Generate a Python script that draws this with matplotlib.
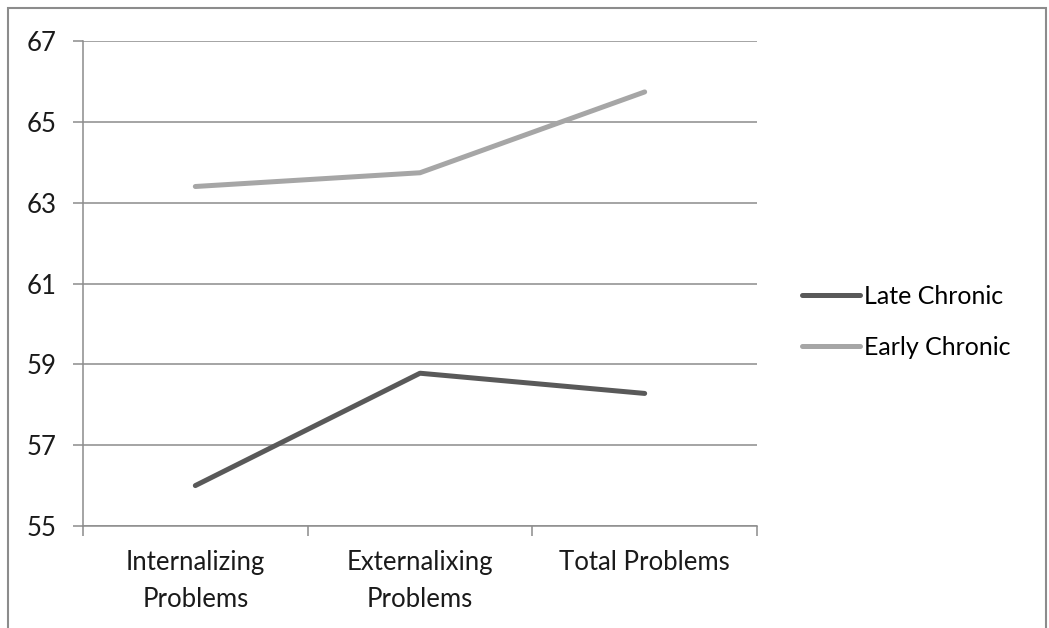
import matplotlib.pyplot as plt
from matplotlib.patches import Rectangle

# data
categories = ["Internalizing\nProblems", "Externalixing\nProblems", "Total Problems"]
late_chronic = [56.0, 58.78, 58.28]
early_chronic = [63.4, 63.74, 65.74]
y_ticks = [55, 57, 59, 61, 63, 65, 67]

plt.rcParams['font.family'] = ['Lato', 'DejaVu Sans']

fig = plt.figure(figsize=(10.49, 6.28), dpi=100)
ax = fig.add_axes([83 / 1049, 1 - 526 / 628, (757 - 83) / 1049, (526 - 41) / 628])

x = list(range(len(categories)))
ax.plot(x, late_chronic, color='#595959', lw=3.6, solid_capstyle='round', label='Late Chronic')
ax.plot(x, early_chronic, color='#a6a6a6', lw=3.6, solid_capstyle='round', label='Early Chronic')

ax.set_xlim(-0.5, 2.5)
ax.set_ylim(55, 67)
ax.set_yticks(y_ticks)
ax.yaxis.grid(True, color='#8c8c8c', lw=1.1)
ax.set_axisbelow(True)

ax.set_xticks(x)
ax.set_xticklabels(categories, fontsize=18.5, color='#1a1a1a', linespacing=1.62)
ax.set_xticks([-0.5, 0.5, 1.5, 2.5], minor=True)
ax.tick_params(axis='x', which='major', length=0, pad=17)
ax.tick_params(axis='x', which='minor', length=7, color='#8c8c8c', width=1.1)
ax.tick_params(axis='y', length=7, color='#8c8c8c', width=1.1, labelsize=18.5, labelcolor='#1a1a1a', pad=12)

for s in ['top', 'right']:
    ax.spines[s].set_visible(False)
for s in ['left', 'bottom']:
    ax.spines[s].set_color('#8c8c8c')
    ax.spines[s].set_linewidth(1.1)

ax.legend(loc='center left', bbox_to_anchor=(802 / 1049, 1 - 322 / 628), bbox_transform=fig.transFigure,
          frameon=False, fontsize=18, handlelength=2.3, handletextpad=0.2, labelspacing=1.12,
          borderaxespad=0, borderpad=0)

# outer chart border
fig.patches.append(Rectangle((8 / 1049, -0.05), (1046 - 8) / 1049, 1.05 - 8 / 628,
                             transform=fig.transFigure, fill=False, ec='#8c8c8c', lw=1.5))

fig.savefig('out.png', dpi=100)
